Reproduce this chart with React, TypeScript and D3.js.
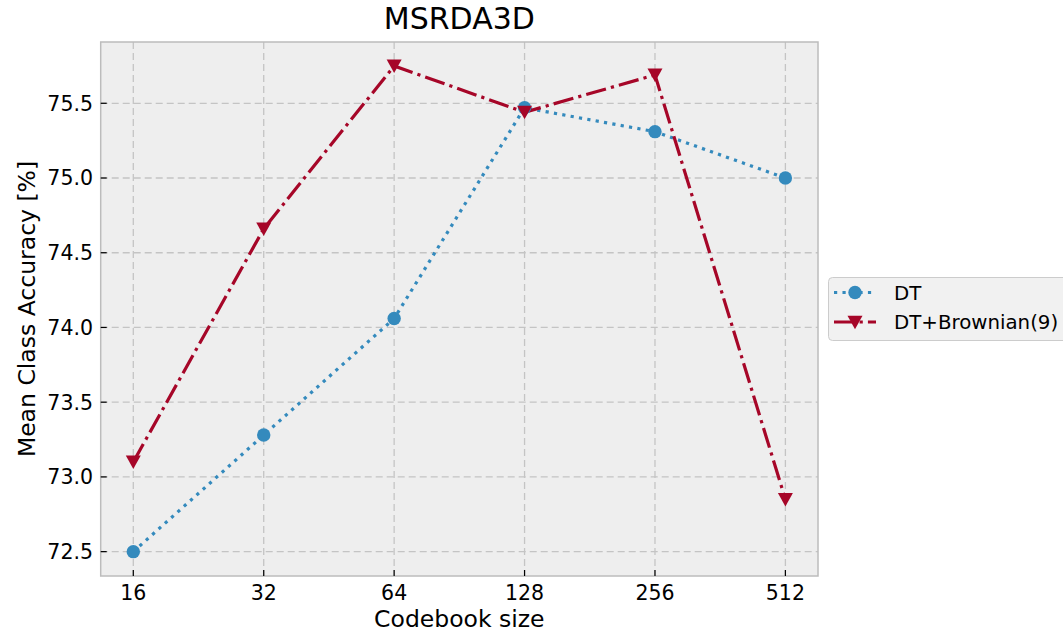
import React from "react";
import * as d3 from "d3";

const categories = [16, 32, 64, 128, 256, 512];
const dtValues = [72.5, 73.28, 74.06, 75.47, 75.31, 75.0];
const brownianValues = [73.1, 74.66, 75.75, 75.44, 75.69, 72.85];
const yTicks = [72.5, 73.0, 73.5, 74.0, 74.5, 75.0, 75.5];
const seriesNames = ["DT", "DT+Brownian(9)"];
const colors = ["#348ABD", "#A60628"];

const W = 1063, H = 635;
const left = 100.7, right = 818, top = 42, bottom = 576;
const FONT = "DejaVu Sans, sans-serif";
const LW = 3.2;
const DOT = `${LW} ${LW * 1.65}`;
const DASHDOT = `${LW * 6.4} ${LW * 1.6} ${LW} ${LW * 1.6}`;

export default function App() {
  const x = d3.scaleLog().base(2).domain([Math.pow(2, 3.75), Math.pow(2, 9.25)]).range([left, right]);
  const y = d3.scaleLinear().domain([72.337, 75.91]).range([bottom, top]);
  const line = d3.line<number>().x((_, i) => x(categories[i])).y((d) => y(d));

  const tri = (cx: number, cy: number, s: number) =>
    `M${cx - s},${cy - s * 0.85} L${cx + s},${cy - s * 0.85} L${cx},${cy + s * 0.95} Z`;

  return (
    <svg width={W} height={H} style={{ position: "absolute", left: 0, top: 0, display: "block" }} fontFamily={FONT}>
      <rect x={0} y={0} width={W} height={H} fill="#ffffff" />
      <rect x={left} y={top} width={right - left} height={bottom - top} fill="#eeeeee" />
      {/* grid */}
      {categories.map((c) => (
        <line key={"gx" + c} x1={x(c)} x2={x(c)} y1={top} y2={bottom} stroke="#c4c4c4" strokeWidth={1.3} strokeDasharray="7 4" />
      ))}
      {yTicks.map((t) => (
        <line key={"gy" + t} x1={left} x2={right} y1={y(t)} y2={y(t)} stroke="#c4c4c4" strokeWidth={1.3} strokeDasharray="7 4" />
      ))}
      {/* spines */}
      <rect x={left} y={top} width={right - left} height={bottom - top} fill="none" stroke="#bcbcbc" strokeWidth={1.5} />
      {/* ticks */}
      {categories.map((c) => (
        <g key={"tx" + c}>
          <line x1={x(c)} x2={x(c)} y1={bottom} y2={bottom - 6} stroke="#000" strokeWidth={1.2} />
          <text x={x(c)} y={600} textAnchor="middle" fontSize={20.5} fill="#000">{c}</text>
        </g>
      ))}
      {yTicks.map((t) => (
        <g key={"ty" + t}>
          <line x1={left} x2={left + 6} y1={y(t)} y2={y(t)} stroke="#000" strokeWidth={1.2} />
          <text x={93} y={y(t)} dy="0.36em" textAnchor="end" fontSize={20.5} fill="#000">{t.toFixed(1)}</text>
        </g>
      ))}
      {/* labels */}
      <text x={(left + right) / 2} y={29} textAnchor="middle" fontSize={30} fill="#000">MSRDA3D</text>
      <text x={(left + right) / 2} y={627} textAnchor="middle" fontSize={23.5} fill="#000">Codebook size</text>
      <text transform={`translate(35,${(top + bottom) / 2}) rotate(-90)`} textAnchor="middle" fontSize={23.5} fill="#000">Mean Class Accuracy [%]</text>
      {/* series */}
      <path d={line(dtValues) || ""} fill="none" stroke={colors[0]} strokeWidth={LW} strokeDasharray={DOT} />
      <path d={line(brownianValues) || ""} fill="none" stroke={colors[1]} strokeWidth={LW} strokeDasharray={DASHDOT} />
      {dtValues.map((v, i) => (
        <circle key={"c" + i} cx={x(categories[i])} cy={y(v)} r={6.7} fill={colors[0]} />
      ))}
      {brownianValues.map((v, i) => (
        <path key={"t" + i} d={tri(x(categories[i]), y(v), 7.5)} fill={colors[1]} />
      ))}
      {/* legend */}
      <rect x={828.5} y={277.5} width={240} height={63} rx={4} fill="#f1f1f1" stroke="#cccccc" strokeWidth={1} />
      <line x1={834} x2={876} y1={292.5} y2={292.5} stroke={colors[0]} strokeWidth={LW} strokeDasharray={DOT} />
      <circle cx={855} cy={292.5} r={6.7} fill={colors[0]} />
      <text x={894} y={292.5} dy="0.36em" fontSize={19.8} fill="#000">{seriesNames[0]}</text>
      <line x1={834} x2={876} y1={322} y2={322} stroke={colors[1]} strokeWidth={LW} strokeDasharray={DASHDOT} />
      <path d={tri(855, 322, 7.5)} fill={colors[1]} />
      <text x={894} y={322} dy="0.36em" fontSize={19.8} fill="#000">{seriesNames[1]}</text>
    </svg>
  );
}
